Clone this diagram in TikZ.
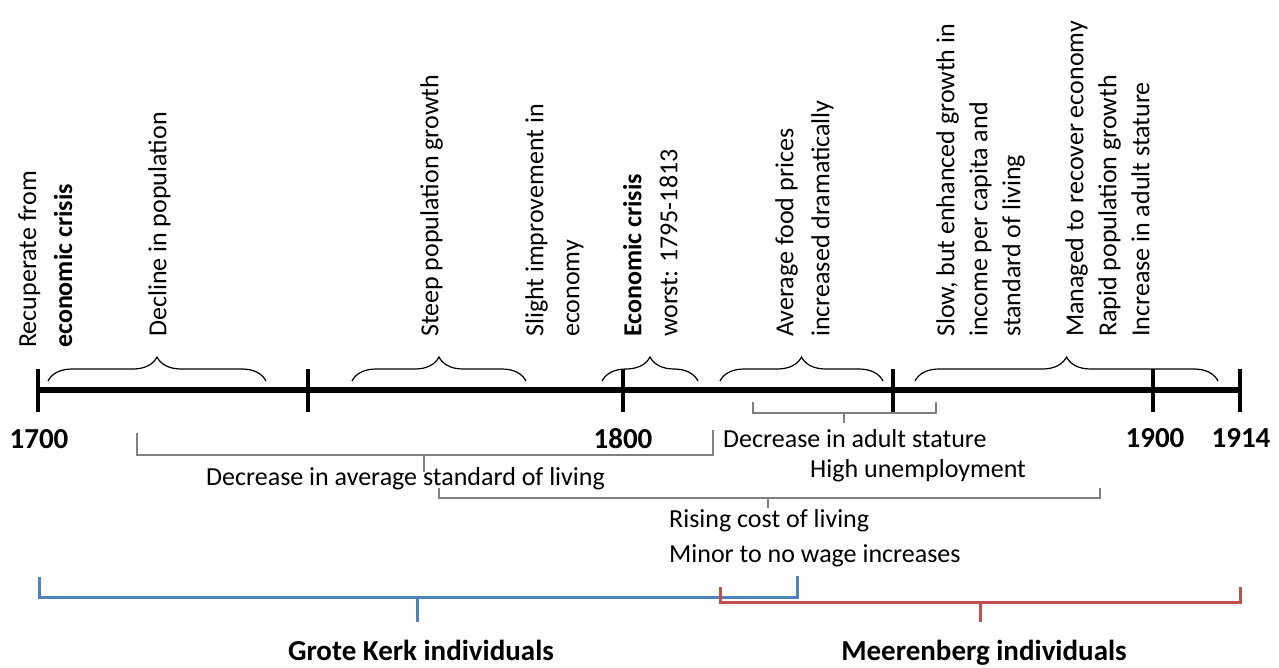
\documentclass[tikz,border=0pt]{standalone}
\usepackage{fontspec}
\setmainfont{Carlito}
\usetikzlibrary{decorations.pathreplacing, positioning}

\definecolor{gkblue}{HTML}{4F81BD}
\definecolor{mbred}{HTML}{C0504D}

\begin{document}
\begin{tikzpicture}[
    x=1pt, y=-1pt,
    axisline/.style = {line width=6pt},
    yeartick/.style = {line width=4pt},
    eventbrace/.style = {decorate, decoration={brace, amplitude=24pt}, line width=1.2pt},
    event/.style = {rotate=90, anchor=north west, align=left, inner sep=0pt, font=\fontsize{26}{36}\selectfont},
    year/.style = {inner sep=0pt, font=\fontsize{29}{35}\selectfont\bfseries},
    effect/.style = {anchor=base west, inner sep=0pt, font=\fontsize{26}{33}\selectfont},
    period/.style = {draw=black!50, line width=2pt},
    grouplabel/.style = {anchor=base, inner sep=0pt, font=\fontsize{29}{35}\selectfont\bfseries},
    groupbar/.style = {line width=3pt}
]
\useasboundingbox (0,0) rectangle (1279,668);

% time axis
\draw[axisline] (38,390) -- (1240,390);
\foreach \x in {38,308,623,893,1153,1240}
    \draw[yeartick] (\x,369) -- (\x,412);

\node [year] (y1700) at (39,439) {1700};
\node [year] (y1800) at (623,439) {1800};
\node [year] (y1900) at (1155,438) {1900};
\node [year] (y1914) at (1241,438) {1914};

% events above the axis
\draw[eventbrace] (48,381) -- (266,381);
\draw[eventbrace] (352,381) -- (526,381);
\draw[eventbrace] (602,381) -- (698,381);
\draw[eventbrace] (720,381) -- (883,381);
\draw[eventbrace] (915,381) -- (1218,381);

\node [event] (recup) at (18,348) {Recuperate from\\\textbf{economic crisis}};
\node [event] (decline) at (148,337) {Decline in population};
\node [event] (steep) at (420,337) {Steep population growth};
\node [event] (slight) at (525,337) {Slight improvement in\\economy};
\node [event] (crisis) at (623,337) {\textbf{Economic crisis}\\worst: 1795-1813};
\node [event] (food) at (775,337) {Average food prices\\increased dramatically};
\node [event, font=\fontsize{26}{33}\selectfont] (slow) at (936,337) {Slow, but enhanced growth in\\income per capita and\\standard of living};
\node [event, font=\fontsize{26}{33}\selectfont] (recover) at (1065,337) {Managed to recover economy\\Rapid population growth\\Increase in adult stature};

% periods below the axis
\draw[period] (753,402) -- (753,413) -- (936,413) -- (936,402);
\draw[period] (844,413) -- (844,423);
\node [effect] (stature) at (723,447) {Decrease in adult stature};
\node [effect] (unemploy) at (810,477) {High unemployment};

\draw[period] (137,433) -- (137,455) -- (713,455) -- (713,430);
\draw[period] (424,455) -- (424,472);
\node [effect] (living) at (206,485) {Decrease in average standard of living};

\draw[period] (439,488) -- (439,498) -- (1100,498) -- (1100,488);
\draw[period] (768,498) -- (768,508);
\node [effect] (rising) at (669,527) {Rising cost of living};
\node [effect] (wages) at (669,562) {Minor to no wage increases};

% burial groups
\draw[groupbar, gkblue] (39,577) -- (39,597) -- (797,597) -- (797,576);
\draw[groupbar, gkblue] (417,597) -- (417,622);
\draw[groupbar, mbred] (720,587) -- (720,602) -- (1240,602) -- (1240,587);
\draw[groupbar, mbred] (980,602) -- (980,622);

\node [grouplabel] (grote) at (421,660) {Grote Kerk individuals};
\node [grouplabel] (meer) at (984,660) {Meerenberg individuals};

\end{tikzpicture}
\end{document}
